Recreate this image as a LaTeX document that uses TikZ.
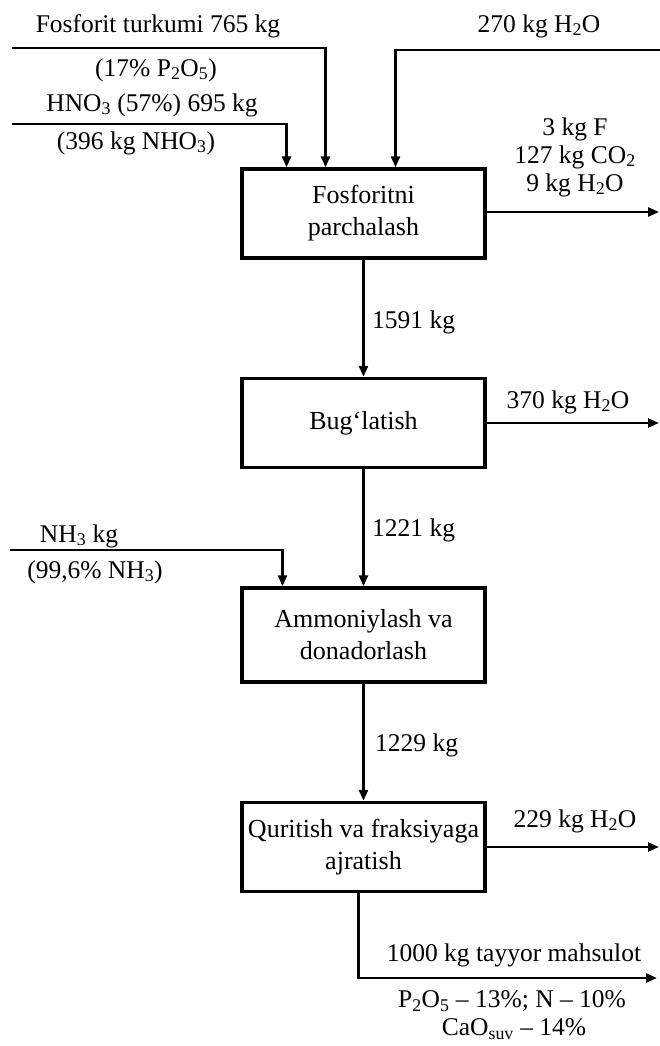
\documentclass[tikz,border=0pt]{standalone}
\usepackage{fontspec}
\setmainfont{Liberation Serif}
\usetikzlibrary{arrows.meta,positioning}
\newcommand{\low}[1]{\textsubscript{#1}}
\newcommand{\Hwat}{H\low{2}O}
\newcommand{\Ptwo}{P\low{2}O\low{5}}
\begin{document}
\begin{tikzpicture}[x=1pt,y=-1pt,
  proc/.style={draw,line width=3.4pt,minimum width=243pt,minimum height=89pt,inner sep=1pt,align=center,font=\fontsize{26}{32}\selectfont},
  flow/.style={line width=2.6pt,-{Triangle[length=11pt,width=9pt]}},
  lbl/.style={inner sep=0pt,align=center,font=\fontsize{25.5}{28}\selectfont}]
\useasboundingbox (0,0) rectangle (660,1046);
% process blocks
\node[proc] (razl) at (363.5,213.5) {Fosforitni\\parchalash};
\node[proc] (isp) at (363.5,423) {Bug‘latish};
\node[proc,minimum height=94pt] (amm) at (363.5,635) {Ammoniylash va\\donadorlash};
\node[proc,minimum height=89pt] (sush) at (363.5,847) {Quritish va fraksiyaga\\ajratish};
% free ends
\coordinate (fosIn) at (12,48);
\coordinate (hnoIn) at (12,124);
\coordinate (watIn) at (660,50);
\coordinate (nhIn) at (10,550);
\coordinate (prodOut) at (657,978);
\coordinate (rgt) at (659,0);
% flows
\draw[flow] (fosIn) -| ([xshift=-38pt]razl.north);
\draw[flow] (hnoIn) -| ([xshift=-77pt]razl.north);
\draw[flow] (watIn) -| ([xshift=32pt]razl.north);
\draw[flow] ([yshift=1.5pt]razl.east) -- ([yshift=1.5pt]razl.east -| rgt);
\draw[flow] (razl) -- (isp);
\draw[flow] (isp.east) -- (isp.east -| rgt);
\draw[flow] (isp) -- (amm);
\draw[flow] (nhIn) -| ([xshift=-81pt]amm.north);
\draw[flow] (amm) -- (sush);
\draw[flow] (sush.east) -- (sush.east -| rgt);
\draw[flow] ([xshift=-5pt]sush.south) |- (prodOut);
% labels
\node[lbl] (fosT) at (158,26) {Fosforit turkumi 765 kg};
\node[lbl] (fosB) at (156,70) {(17\% \Ptwo)};
\node[lbl] (hnoT) at (152,105) {HNO\low{3} (57\%) 695 kg};
\node[lbl] (hnoB) at (136,143) {(396 kg NHO\low{3})};
\node[lbl] (watT) at (539,26) {270 kg \Hwat};
\node[lbl] (gas) at (575,157) {3 kg F\\127 kg CO\low{2}\\9 kg \Hwat};
\node[lbl,anchor=west] (m1) at (372,322) {1591 kg};
\node[lbl] (vap) at (568,402) {370 kg \Hwat};
\node[lbl,anchor=west] (m2) at (372,530) {1221 kg};
\node[lbl] (nhT) at (79,536) {NH\low{3} kg};
\node[lbl] (nhB) at (95,572) {(99,6\% NH\low{3})};
\node[lbl,anchor=west] (m3) at (375,745) {1229 kg};
\node[lbl] (dry) at (575,821) {229 kg \Hwat};
\node[lbl] (prodT) at (514,955) {1000 kg tayyor mahsulot};
\node[lbl] (prodB) at (512,1001) {P\low{2}O\low{5} – 13\%; N – 10\%};
\node[lbl] (prodC) at (514,1029) {CaO\low{suv} – 14\%};
\end{tikzpicture}
\end{document}
